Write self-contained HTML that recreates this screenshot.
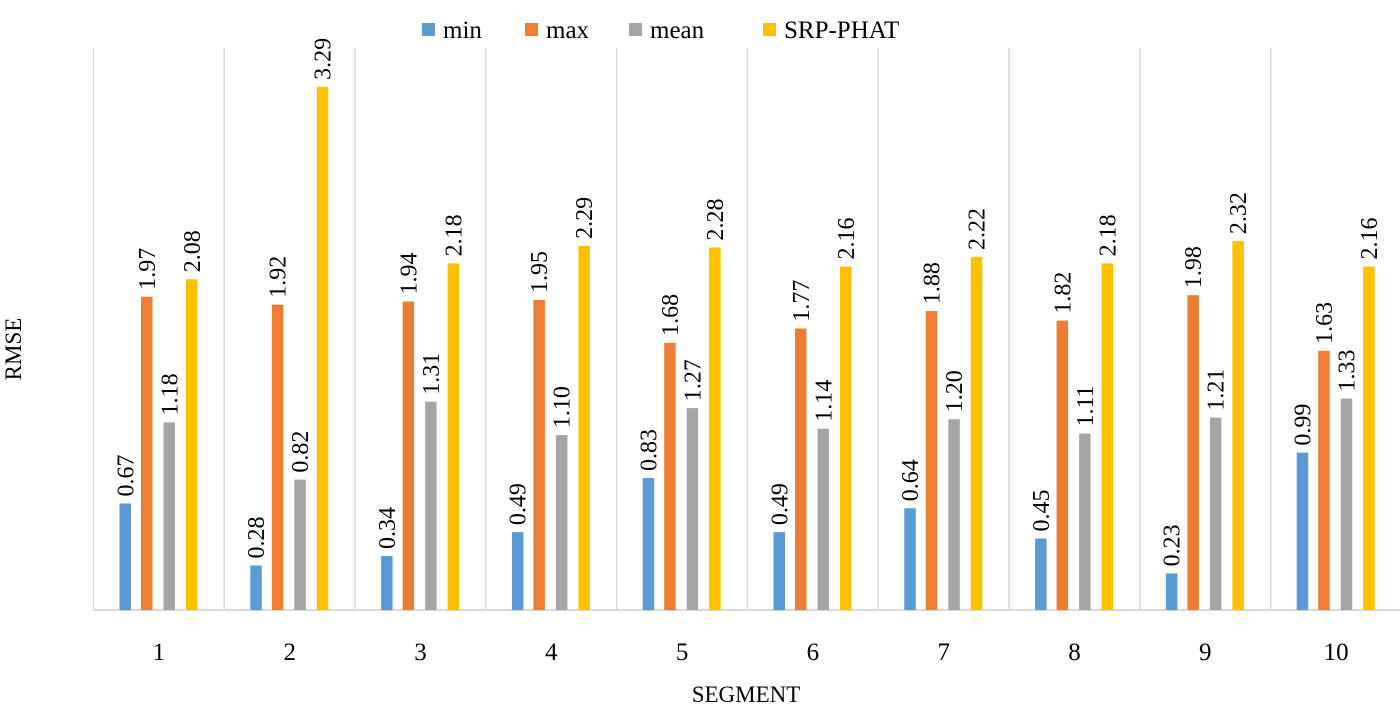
<!DOCTYPE html>
<html><head><meta charset="utf-8"><style>
body{margin:0;background:#fff}
svg text{font-family:"Liberation Serif",serif;fill:#000}
</style></head><body>
<svg id="chart" width="1400" height="713" viewBox="0 0 1400 713" xmlns="http://www.w3.org/2000/svg">
<g id="grid"></g>
<g id="bars"></g>
<g id="labels"></g>
<g id="xticks"></g>
<text x="746" y="702" font-size="23" text-anchor="middle">SEGMENT</text>
<text transform="translate(21,349) rotate(-90)" font-size="23" text-anchor="middle">RMSE</text>
<g id="legend"></g>
</svg>
<script>
const categories = ["1","2","3","4","5","6","7","8","9","10"];
const seriesNames = ["min","max","mean","SRP-PHAT"];
const minVals = [0.67,0.28,0.34,0.49,0.83,0.49,0.64,0.45,0.23,0.99];
const maxVals = [1.97,1.92,1.94,1.95,1.68,1.77,1.88,1.82,1.98,1.63];
const meanVals = [1.18,0.82,1.31,1.10,1.27,1.14,1.20,1.11,1.21,1.33];
const srpVals = [2.08,3.29,2.18,2.29,2.28,2.16,2.22,2.18,2.32,2.16];

const colors = ["#5b9bd5","#ed7d31","#a5a5a5","#ffc000"];
const series = [minVals,maxVals,meanVals,srpVals];
const NS="http://www.w3.org/2000/svg";
const x0=93.5, groupW=130.8, baseY=610, pxPerUnit=159;
const yScale=v=>baseY-v*pxPerUnit;
const xGroup=i=>x0+i*groupW;
const barOff=[26,47.5,70,92.5], barW=11.5;
function mk(tag,attrs,parent){const e=document.createElementNS(NS,tag);for(const k in attrs)e.setAttribute(k,attrs[k]);parent.appendChild(e);return e;}
const grid=document.getElementById('grid'),bars=document.getElementById('bars'),labels=document.getElementById('labels'),xt=document.getElementById('xticks'),leg=document.getElementById('legend');
for(let i=0;i<=categories.length;i++){
  const l=mk('line',{x1:xGroup(i),x2:xGroup(i),y1:48,y2:baseY,stroke:'#d9d9d9','stroke-width':1.5},grid);
  
  
}
const ax=mk('line',{x1:x0,x2:1400,y1:baseY,y2:baseY,stroke:'#d9d9d9','stroke-width':2},grid);


categories.forEach((c,i)=>{
  const t=mk('text',{x:xGroup(i)+groupW/2,y:660,'font-size':25,'text-anchor':'middle'},xt);
  t.textContent=c;
  
  
  series.forEach((s,k)=>{
    const v=s[i], x=xGroup(i)+barOff[k], y=yScale(v);
    const r=mk('rect',{x:x,y:y,width:barW,height:baseY-y,fill:colors[k]},bars);
    
    
    const cx=x+barW/2+8, cy=y-7;
    const t2=mk('text',{x:0,y:0,'font-size':24,transform:`translate(${cx},${cy}) rotate(-90)`},labels);
    t2.textContent=v.toFixed(2);
    
    
  });
});
const legX=[422,525,629,763];
seriesNames.forEach((n,k)=>{
  const g=mk('g',{},leg);
  
  
  mk('rect',{x:legX[k],y:23,width:13,height:13,fill:colors[k]},g);
  const t=mk('text',{x:legX[k]+21,y:38,'font-size':25},g);
  t.textContent=n;
});
</script>
</body></html>
